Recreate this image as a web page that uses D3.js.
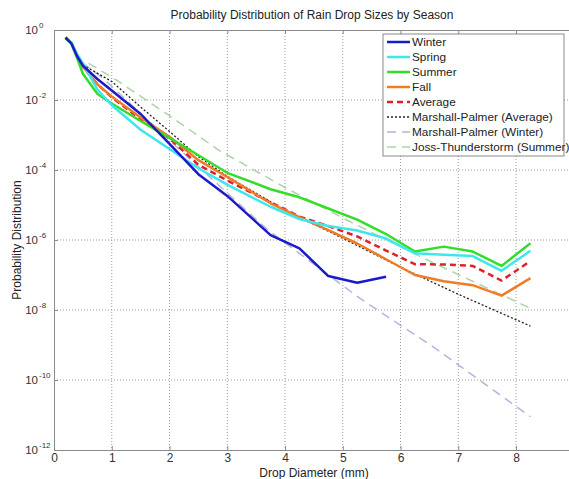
<!DOCTYPE html>
<html>
<head>
<meta charset="utf-8">
<script src="https://cdn.jsdelivr.net/npm/d3@7"></script>
<style>
  body { margin: 0; background: #fff; }
  svg { display: block; font-family: "Liberation Sans", Arial, sans-serif; }
</style>
</head>
<body>
<svg id="chart" width="569" height="479"></svg>
<script>
// drop diameter bins (mm)
var diameters = [0.2, 0.3, 0.4, 0.5, 0.75, 1, 1.5, 2, 2.5, 3, 3.75, 4.25, 4.75, 5.25, 5.75, 6.25, 6.75, 7.25, 7.75, 8.25];

var winter = [6.0e-1, 4.17e-1, 1.78e-1, 9.55e-2, 3.98e-2, 1.86e-2, 3.98e-3, 5.62e-4, 7.59e-5, 1.82e-5, 1.38e-6, 5.75e-7, 9.33e-8, 6.03e-8, 8.91e-8];
var spring = [6.0e-1, 4.37e-1, 2.09e-1, 1.12e-1, 2.0e-2, 7.08e-3, 1.41e-3, 3.98e-4, 1.12e-4, 3.80e-5, 8.91e-6, 3.98e-6, 2.51e-6, 1.86e-6, 1.10e-6, 4.17e-7, 3.80e-7, 3.47e-7, 1.32e-7, 4.90e-7];
var summer = [6.0e-1, 3.98e-1, 1.58e-1, 5.62e-2, 1.51e-2, 7.94e-3, 2.51e-3, 8.32e-4, 2.63e-4, 8.32e-5, 2.82e-5, 1.66e-5, 7.94e-6, 3.80e-6, 1.48e-6, 4.68e-7, 6.46e-7, 4.68e-7, 1.82e-7, 8.13e-7];
var fall = [6.31e-1, 4.37e-1, 1.91e-1, 8.91e-2, 2.82e-2, 1.26e-2, 3.16e-3, 8.91e-4, 1.91e-4, 6.31e-5, 1.12e-5, 4.47e-6, 1.91e-6, 7.94e-7, 2.82e-7, 1.0e-7, 6.61e-8, 5.13e-8, 2.57e-8, 8.13e-8];
var average = [6.0e-1, 4.17e-1, 1.91e-1, 8.91e-2, 2.82e-2, 1.20e-2, 2.82e-3, 7.94e-4, 1.41e-4, 5.01e-5, 1.20e-5, 4.68e-6, 2.51e-6, 1.26e-6, 5.01e-7, 2.04e-7, 2.0e-7, 1.82e-7, 6.92e-8, 2.51e-7];

// reference distributions, read at their own diameters
var mpAvgD = [0.5, 1, 1.5, 2, 2.5, 3, 4, 5, 6, 7, 8.25];
var mpAvg = [1.0e-1, 3.39e-2, 6.31e-3, 1.26e-3, 2.40e-4, 6.61e-5, 7.08e-6, 1.12e-6, 1.66e-7, 2.82e-8, 3.47e-9];
var mpWinD = [0.5, 0.85, 2, 3.7, 5.3, 6.6, 8.25];
var mpWin = [1.12e-1, 4.17e-2, 7.08e-4, 1.95e-6, 2.14e-8, 8.13e-10, 8.91e-12];
var jossD = [0.6, 1.1, 2, 2.85, 4, 5.07, 6.5, 8.25];
var joss = [1.12e-1, 3.55e-2, 3.55e-3, 3.72e-4, 3.16e-5, 3.72e-6, 2.51e-7, 1.12e-8];

var xTicks = [0, 1, 2, 3, 4, 5, 6, 7, 8];
var yExps = [0, -2, -4, -6, -8, -10, -12];

var series = [
  { name: 'Winter', d: diameters, v: winter, color: '#1a1ac8', width: 2.5, dash: null },
  { name: 'Spring', d: diameters, v: spring, color: '#3ee6ee', width: 2.5, dash: null },
  { name: 'Summer', d: diameters, v: summer, color: '#33dd2a', width: 2.5, dash: null },
  { name: 'Fall', d: diameters, v: fall, color: '#f07c28', width: 2.5, dash: null },
  { name: 'Average', d: diameters, v: average, color: '#e0202a', width: 2.5, dash: '6,4' },
  { name: 'Marshall-Palmer (Average)', d: mpAvgD, v: mpAvg, color: '#222', width: 1.3, dash: '2,2' },
  { name: 'Marshall-Palmer (Winter)', d: mpWinD, v: mpWin, color: '#b4b4dc', width: 1.5, dash: '9,6' },
  { name: 'Joss-Thunderstorm (Summer)', d: jossD, v: joss, color: '#aed2aa', width: 1.5, dash: '9,6' }
];

var margin = { top: 30, left: 54 };
var width = 519.75, height = 420;

var svg = d3.select('#chart');
var g = svg.append('g').attr('transform', 'translate(' + margin.left + ',' + margin.top + ')');

var x = d3.scaleLinear().domain([0, 9]).range([0, width]);
var y = d3.scaleLog().domain([1e-12, 1]).range([height, 0]);

// grid
g.selectAll('.vgrid').data(xTicks.slice(1)).enter().append('line')
  .attr('x1', function (d) { return x(d); }).attr('x2', function (d) { return x(d); })
  .attr('y1', 0).attr('y2', height)
  .attr('stroke', '#9a9a9a').attr('stroke-width', 1).attr('stroke-dasharray', '1,2');
g.selectAll('.hgrid').data(yExps.slice(1, -1)).enter().append('line')
  .attr('x1', 0).attr('x2', width)
  .attr('y1', function (d) { return y(Math.pow(10, d)); }).attr('y2', function (d) { return y(Math.pow(10, d)); })
  .attr('stroke', '#9a9a9a').attr('stroke-width', 1).attr('stroke-dasharray', '1,2');

// axes box
var xAxis = g.append('g').attr('transform', 'translate(0,' + height + ')')
  .call(d3.axisBottom(x).tickValues(xTicks).tickSize(-4).tickPadding(3).tickFormat(d3.format('d')));
g.append('g').attr('transform', 'translate(0,0)')
  .call(d3.axisTop(x).tickValues(xTicks).tickSize(-4).tickFormat(''));
var yAxis = g.append('g')
  .call(d3.axisLeft(y).tickValues(yExps.map(function (e) { return Math.pow(10, e); })).tickSize(-4).tickFormat(''));
g.selectAll('.domain').attr('stroke', '#8a8a8a');
g.selectAll('.tick line').attr('stroke', '#8a8a8a');
xAxis.selectAll('text').attr('fill', '#333').style('font-size', '12px');

// y tick labels with superscript exponents
var yl = g.selectAll('.ylab').data(yExps).enter().append('text')
  .attr('x', -16).attr('y', function (d) { return y(Math.pow(10, d)) + 4; })
  .attr('text-anchor', 'end').attr('fill', '#333').style('font-size', '11.5px');
yl.append('tspan').text('10');
g.selectAll('.yexp').data(yExps).enter().append('text')
  .attr('x', -15).attr('y', function (d) { return y(Math.pow(10, d)) - 2; })
  .attr('fill', '#333').style('font-size', '8px')
  .text(function (d) { return d === 0 ? '0' : String(d); });

// lines
var line = d3.line()
  .x(function (p) { return x(p[0]); })
  .y(function (p) { return y(p[1]); });

series.slice().reverse().forEach(function (s) {
  var pts = s.v.map(function (v, i) { return [s.d[i], v]; });
  g.append('path')
    .datum(pts)
    .attr('fill', 'none')
    .attr('stroke', s.color)
    .attr('stroke-width', s.width)
    .attr('stroke-linejoin', 'round')
    .attr('stroke-dasharray', s.dash)
    .attr('d', line);
});

// title and labels
svg.append('text').attr('x', 312).attr('y', 19).attr('text-anchor', 'middle')
  .attr('fill', '#222').style('font-size', '12px')
  .text('Probability Distribution of Rain Drop Sizes by Season');
svg.append('text').attr('x', 314).attr('y', 477).attr('text-anchor', 'middle')
  .attr('fill', '#222').style('font-size', '12px')
  .text('Drop Diameter (mm)');
svg.append('text').attr('transform', 'translate(21,240) rotate(-90)').attr('text-anchor', 'middle')
  .attr('fill', '#222').style('font-size', '12px')
  .text('Probability Distribution');

// legend
var lg = svg.append('g').attr('transform', 'translate(383,34)');
lg.append('rect').attr('width', 181).attr('height', 122)
  .attr('fill', '#fff').attr('stroke', '#8a8a8a');
series.forEach(function (s, i) {
  var ly = 8 + i * 15;
  lg.append('line').attr('x1', 4).attr('x2', 27).attr('y1', ly).attr('y2', ly)
    .attr('stroke', s.color).attr('stroke-width', s.width).attr('stroke-dasharray', s.dash);
  lg.append('text').attr('x', 29).attr('y', ly + 4)
    .attr('fill', '#222').style('font-size', '11.8px').text(s.name);
});
</script>
</body>
</html>
